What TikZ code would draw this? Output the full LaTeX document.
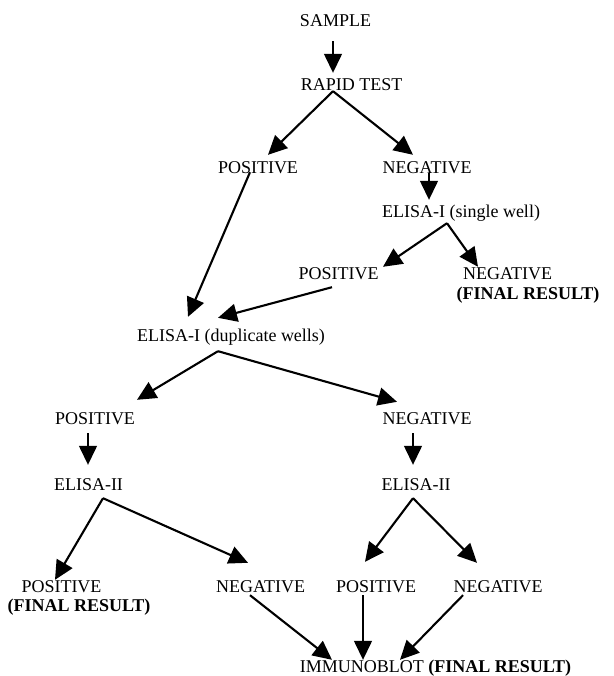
\documentclass[tikz,border=0pt]{standalone}
\usepackage{fontspec}
\setmainfont{Liberation Serif}
\usetikzlibrary{arrows.meta}
\tikzset{
	lbl/.style={anchor=base, inner sep=0pt, text height=12pt, text depth=3pt, font=\fontsize{18}{20}\selectfont},
	arr/.style={line width=2.1pt, -{Triangle[length=19pt,width=18pt]}},
	varr/.style={line width=1.4pt, -{Triangle[length=19pt,width=18pt]}}
}
\begin{document}
\begin{tikzpicture}[x=1pt, y=-1pt]
		\useasboundingbox (0,0) rectangle (613,676);
		\node[lbl] (sample) at (335.5,27) {SAMPLE};
		\node[lbl] (rapid) at (351.5,91) {RAPID TEST};
		\node[lbl] (posA) at (258,174) {POSITIVE};
		\node[lbl] (negA) at (427,174) {NEGATIVE};
		\node[lbl] (single) at (461,217) {ELISA-I (single well)};
		\node[lbl] (posB) at (338.5,279) {POSITIVE};
		\node[lbl] (negB) at (507.5,279) {NEGATIVE};
		\node[lbl] (finalB) at (528,299) {\textbf{(FINAL RESULT)}};
		\node[lbl] (dupl) at (231,341) {ELISA-I (duplicate wells)};
		\node[lbl] (posC) at (95,424) {POSITIVE};
		\node[lbl] (negC) at (427,424) {NEGATIVE};
		\node[lbl] (elisaL) at (88.5,490) {ELISA-II};
		\node[lbl] (elisaR) at (416,490) {ELISA-II};
		\node[lbl] (posD) at (61.5,592) {POSITIVE};
		\node[lbl] (finalD) at (79,611) {\textbf{(FINAL RESULT)}};
		\node[lbl] (negD) at (260.5,592) {NEGATIVE};
		\node[lbl] (posE) at (376,592) {POSITIVE};
		\node[lbl] (negE) at (498,592) {NEGATIVE};
		\node[lbl] (immuno) at (435.5,672) {IMMUNOBLOT \textbf{(FINAL RESULT)}};
		
		\draw[varr] ([shift={(-2.5,11)}]sample.south) -- ([shift={(-18.5,-6)}]rapid.north);
		\draw[arr] ([shift={(-18.5,-3)}]rapid.south) -- ([shift={(10,-7)}]posA.north);
		\draw[arr] ([shift={(-18.5,-3)}]rapid.south) -- ([shift={(-14,-7)}]negA.north);
		\draw[varr] ([shift={(2,-4)}]negA.south) -- ([shift={(-32,-5)}]single.north);
		\draw[arr] ([shift={(-14,3)}]single.south) -- ([shift={(44.5,0)}]posB.north);
		\draw[arr] ([shift={(-14,3)}]single.south) -- ([shift={(-29.5,0)}]negB.north);
		\draw[arr] ([shift={(-8,-5)}]posA.south) -- ([shift={(-43,-12)}]dupl.north);
		\draw[arr] ([shift={(-6.5,5)}]posB.south) -- ([shift={(-13,-11)}]dupl.north);
		\draw[arr] ([shift={(-13,7)}]dupl.south) -- ([shift={(42,-12)}]posC.north);
		\draw[arr] ([shift={(-13,7)}]dupl.south) -- ([shift={(-30,-10)}]negC.north);
		\draw[varr] ([shift={(-7,6)}]posC.south) -- ([shift={(-0.5,-13)}]elisaL.north);
		\draw[varr] ([shift={(-14,6)}]negC.south) -- ([shift={(-3,-13)}]elisaR.north);
		\draw[arr] ([shift={(14.5,5)}]elisaL.south) -- ([shift={(-6.5,0)}]posD.north);
		\draw[arr] ([shift={(14.5,5)}]elisaL.south) -- ([shift={(-12.5,-17)}]negD.north);
		\draw[arr] ([shift={(-3,5)}]elisaR.south) -- ([shift={(-11,-18)}]posE.north);
		\draw[arr] ([shift={(-3,5)}]elisaR.south) -- ([shift={(-21,-17)}]negE.north);
		\draw[arr] ([shift={(-10.5,0)}]negD.south) -- ([shift={(-103.5,0)}]immuno.north);
		\draw[varr] ([shift={(-13,0)}]posE.south) -- ([shift={(-72.5,0)}]immuno.north);
		\draw[arr] ([shift={(-35,0)}]negE.south) -- ([shift={(-35.5,0)}]immuno.north);
	\end{tikzpicture}
\end{document}
